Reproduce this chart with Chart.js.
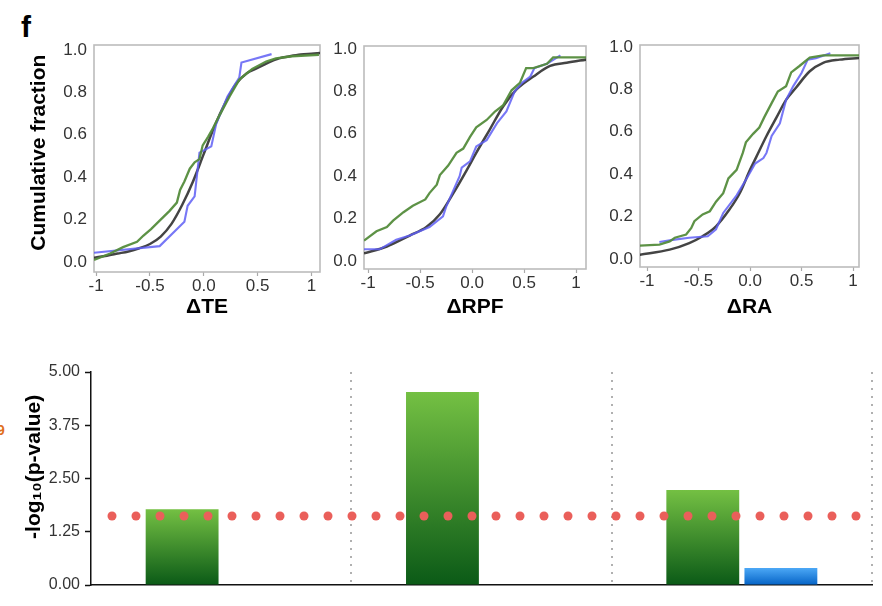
<!DOCTYPE html>
<html>
<head>
<meta charset="utf-8">
<script src="https://cdn.jsdelivr.net/npm/chart.js@4.4.1/dist/chart.umd.min.js"></script>
<style>
  html, body { margin: 0; padding: 0; background: #fff; }
  body { width: 882px; height: 606px; position: relative; overflow: hidden; font-family: "Liberation Sans", Arial, sans-serif; }
  canvas { position: absolute; }
  .lbl { position: absolute; font-weight: bold; white-space: nowrap; }
</style>
</head>
<body>
<div class="lbl" style="left:21px;top:12px;font-size:30px;line-height:30px;color:#000;">f</div>
<div class="lbl" style="left:-3px;top:423px;font-size:14px;line-height:14px;color:#e07020;">9</div>
<canvas id="c1" width="335" height="330" style="left:0;top:0;"></canvas>
<canvas id="c2" width="300" height="330" style="left:300px;top:0;"></canvas>
<canvas id="c3" width="302" height="330" style="left:580px;top:0;"></canvas>
<canvas id="c4" width="882" height="266" style="left:0;top:340px;"></canvas>
<script>
// ---------- DATA ----------
// Cumulative-fraction curves: [delta, fraction]
const teBlack  = [[-1.02,0.02],[-0.9,0.03],[-0.8,0.04],[-0.7,0.05],[-0.6,0.065],[-0.5,0.085],[-0.4,0.12],[-0.3,0.18],[-0.2,0.27],[-0.1,0.38],[0,0.51],[0.1,0.64],[0.2,0.75],[0.3,0.84],[0.4,0.89],[0.5,0.915],[0.6,0.94],[0.7,0.96],[0.8,0.97],[0.9,0.978],[1.0,0.982],[1.08,0.985]];
const teGreen  = [[-1.02,0.01],[-0.87,0.04],[-0.75,0.07],[-0.62,0.095],[-0.56,0.125],[-0.49,0.155],[-0.41,0.195],[-0.32,0.24],[-0.25,0.28],[-0.22,0.34],[-0.18,0.38],[-0.13,0.44],[-0.085,0.47],[-0.04,0.485],[-0.01,0.55],[0.04,0.59],[0.085,0.63],[0.15,0.695],[0.24,0.78],[0.33,0.86],[0.45,0.91],[0.58,0.945],[0.67,0.96],[0.82,0.97],[1.07,0.977]];
const teBlue   = [[-1.02,0.044],[-0.41,0.075],[-0.18,0.19],[-0.15,0.265],[-0.085,0.31],[-0.04,0.515],[0.07,0.545],[0.115,0.65],[0.22,0.78],[0.33,0.87],[0.35,0.94],[0.63,0.98]];

const rpfBlack = [[-1.04,0.036],[-0.82,0.068],[-0.6,0.12],[-0.44,0.16],[-0.31,0.22],[-0.18,0.32],[-0.05,0.43],[0.04,0.51],[0.17,0.62],[0.3,0.73],[0.43,0.81],[0.59,0.87],[0.75,0.92],[0.91,0.935],[1.1,0.95]];
const rpfGreen = [[-1.04,0.096],[-0.92,0.14],[-0.82,0.16],[-0.76,0.19],[-0.66,0.23],[-0.57,0.26],[-0.45,0.29],[-0.41,0.32],[-0.34,0.36],[-0.31,0.405],[-0.23,0.45],[-0.15,0.51],[-0.085,0.53],[-0.02,0.585],[0.04,0.63],[0.14,0.665],[0.22,0.705],[0.3,0.735],[0.38,0.805],[0.46,0.84],[0.52,0.91],[0.59,0.91],[0.72,0.93],[0.78,0.96],[1.1,0.96]];
const rpfBlue  = [[-1.04,0.055],[-0.89,0.055],[-0.73,0.1],[-0.6,0.12],[-0.41,0.16],[-0.28,0.21],[-0.25,0.255],[-0.12,0.4],[-0.1,0.44],[-0.02,0.47],[0.04,0.54],[0.14,0.57],[0.24,0.65],[0.33,0.705],[0.41,0.8],[0.48,0.84],[0.56,0.87],[0.6,0.91],[0.72,0.93],[0.85,0.97]];

const raBlack  = [[-1.07,0.02],[-0.78,0.044],[-0.59,0.075],[-0.46,0.107],[-0.33,0.154],[-0.2,0.233],[-0.1,0.31],[0.0,0.42],[0.06,0.48],[0.16,0.58],[0.26,0.67],[0.35,0.75],[0.45,0.81],[0.58,0.885],[0.71,0.925],[0.87,0.94],[1.06,0.948]];
const raGreen  = [[-1.07,0.063],[-0.88,0.068],[-0.78,0.083],[-0.73,0.1],[-0.62,0.115],[-0.57,0.146],[-0.54,0.178],[-0.46,0.21],[-0.39,0.225],[-0.33,0.27],[-0.26,0.31],[-0.21,0.38],[-0.13,0.42],[-0.07,0.5],[-0.04,0.55],[0.03,0.59],[0.09,0.62],[0.14,0.67],[0.21,0.735],[0.27,0.79],[0.35,0.815],[0.4,0.88],[0.48,0.91],[0.58,0.95],[0.71,0.96],[1.06,0.96]];
const raBlue   = [[-0.88,0.08],[-0.75,0.09],[-0.59,0.1],[-0.41,0.107],[-0.33,0.14],[-0.26,0.217],[-0.13,0.3],[-0.02,0.39],[0.05,0.45],[0.13,0.476],[0.16,0.5],[0.21,0.58],[0.29,0.64],[0.35,0.75],[0.42,0.815],[0.5,0.877],[0.56,0.94],[0.64,0.947],[0.78,0.97]];

const panelTitles = ['\u0394TE', '\u0394RPF', '\u0394RA'];
const xTickVals   = [-1, -0.5, 0, 0.5, 1];
const xTickLabels = ['-1', '-0.5', '0.0', '0.5', '1'];
const yTickVals   = [0, 0.2, 0.4, 0.6, 0.8, 1.0];
const yTickLabels = ['0.0', '0.2', '0.4', '0.6', '0.8', '1.0'];

// Bar chart: -log10(p-value)
const barCategories = ['\u0394TE', '\u0394RPF', '\u0394RA'];
const greenValues   = [1.78, 4.53, 2.23];
const blueValues    = [null, null, 0.40];
const thresholdValue = 1.62;
const barTickVals   = [0, 1.25, 2.5, 3.75, 5];
const barTickLabels = ['0.00', '1.25', '2.50', '3.75', '5.00'];

// ---------- RENDER ----------
const FONT = '"Liberation Sans", Arial, sans-serif';
const toXY = arr => arr.map(p => ({x: p[0], y: p[1]}));

const framePlugin = {
  id: 'frame',
  beforeDatasetsDraw(chart) {
    const a = chart.chartArea, ctx = chart.ctx;
    ctx.save();
    ctx.strokeStyle = '#bcbcbc';
    ctx.lineWidth = 1.6;
    ctx.strokeRect(a.left, a.top, a.right - a.left, a.bottom - a.top);
    ctx.restore();
  }
};

function makePanel(id, cfg) {
  const yScale = {
    min: cfg.ymin, max: cfg.ymax,
    afterBuildTicks: s => { s.ticks = yTickVals.map(v => ({value: v})); },
    afterFit: s => { s.width = cfg.yWidth; },
    grid: { display: false, drawTicks: false },
    border: { display: false },
    ticks: {
      padding: 7, color: '#333',
      font: { family: FONT, size: 17 },
      callback: (v, i) => yTickLabels[i]
    },
    title: cfg.yTitle ? {
      display: true, text: cfg.yTitle, color: '#000',
      font: { family: FONT, size: 21, weight: 'bold' },
      padding: { top: cfg.yTitlePad, bottom: 0 }
    } : { display: false }
  };
  const xScale = {
    type: 'linear', min: cfg.xmin, max: cfg.xmax,
    afterBuildTicks: s => { s.ticks = xTickVals.map(v => ({value: v})); },
    afterFit: s => { s.height = cfg.xHeight; },
    grid: { drawOnChartArea: false, drawTicks: true, tickLength: 4, tickColor: '#aaa', tickWidth: 1.2 },
    border: { display: false },
    ticks: {
      padding: 0, color: '#333', maxRotation: 0, autoSkip: false,
      font: { family: FONT, size: 17 },
      callback: (v, i) => xTickLabels[i]
    },
    title: {
      display: true, text: cfg.xTitle, color: '#000',
      font: { family: FONT, size: 21, weight: 'bold' },
      padding: { top: 0, bottom: 4 }
    }
  };
  const ds = (data, color, w, smooth) => ({
    data: toXY(data), borderColor: color, borderWidth: w, pointRadius: 0,
    tension: smooth ? 0.4 : 0, cubicInterpolationMode: smooth ? 'monotone' : 'default',
    fill: false
  });
  new Chart(document.getElementById(id), {
    type: 'line',
    data: { datasets: [
      ds(cfg.green, 'rgba(84,140,60,0.95)', 2.3, false),
      ds(cfg.blue, 'rgba(95,95,245,0.85)', 2.1, false),
      ds(cfg.black, 'rgba(35,35,35,0.85)', 2.5, true)
    ]},
    options: {
      responsive: false, animation: false,
      layout: { padding: cfg.pad },
      plugins: { legend: { display: false }, tooltip: { enabled: false } },
      scales: { x: xScale, y: yScale }
    },
    plugins: [framePlugin]
  });
}

makePanel('c1', { black: teBlack, green: teGreen, blue: teBlue, xTitle: panelTitles[0],
  yTitle: '  Cumulative fraction', yTitlePad: 27,
  xmin: -1.02, xmax: 1.08, ymin: -0.047, ymax: 1.023,
  yWidth: 94, xHeight: 52, pad: { left: 0, top: 45, right: 15, bottom: 6 } });
makePanel('c2', { black: rpfBlack, green: rpfGreen, blue: rpfBlue, xTitle: panelTitles[1],
  xmin: -1.04, xmax: 1.096, ymin: -0.038, ymax: 1.014,
  yWidth: 64, xHeight: 55, pad: { left: 0, top: 46, right: 14, bottom: 6 } });
makePanel('c3', { black: raBlack, green: raGreen, blue: raBlue, xTitle: panelTitles[2],
  xmin: -1.068, xmax: 1.058, ymin: -0.038, ymax: 1.009,
  yWidth: 60, xHeight: 57, pad: { left: 0, top: 45, right: 23, bottom: 6 } });

// Bar chart
function barGradient(top, bottom) {
  return (c) => {
    const chart = c.chart;
    if (!chart.chartArea || c.raw == null) return top;
    const y = chart.scales.y;
    const g = chart.ctx.createLinearGradient(0, y.getPixelForValue(c.raw), 0, y.getPixelForValue(0));
    g.addColorStop(0, top);
    g.addColorStop(1, bottom);
    return g;
  };
}

const dotsPlugin = {
  id: 'dots',
  afterDatasetsDraw(chart) {
    const a = chart.chartArea, ctx = chart.ctx;
    const y = chart.scales.y.getPixelForValue(thresholdValue);
    ctx.save();
    ctx.fillStyle = '#ea5f5a';
    for (let x = a.left + 21; x <= a.right - 14; x += 24) {
      ctx.beginPath();
      ctx.arc(x, y, 4.5, 0, Math.PI * 2);
      ctx.fill();
    }
    ctx.restore();
  }
};

new Chart(document.getElementById('c4'), {
  type: 'bar',
  data: {
    labels: barCategories,
    datasets: [
      { data: greenValues, backgroundColor: barGradient('#74c043', '#0b5a17'),
        categoryPercentage: 0.6, barPercentage: 0.933, borderWidth: 0 },
      { data: blueValues, backgroundColor: barGradient('#4ca8f6', '#0563c6'),
        categoryPercentage: 0.6, barPercentage: 0.933, borderWidth: 0 }
    ]
  },
  options: {
    responsive: false, animation: false,
    layout: { padding: { left: 0, top: 32, right: 10, bottom: 0 } },
    plugins: { legend: { display: false }, tooltip: { enabled: false } },
    scales: {
      x: {
        type: 'category',
        afterFit: s => { s.height = 21; },
        ticks: { display: false },
        grid: {
          display: true, offset: true, drawOnChartArea: true, drawTicks: false,
          color: c => (c.index === 0 ? 'rgba(0,0,0,0)' : '#b0b0b0'), lineWidth: 2
        },
        border: { display: true, color: '#111', width: 1.5, dash: [2, 6] }
      },
      y: {
        min: 0, max: 5,
        afterBuildTicks: s => { s.ticks = barTickVals.map(v => ({value: v})); },
        afterFit: s => { s.width = 91; },
        grid: { drawOnChartArea: false, drawTicks: true, tickLength: 6, tickColor: '#111', tickWidth: 1.5 },
        border: { display: true, color: '#111', width: 1.5 },
        ticks: {
          padding: 5, color: '#333',
          font: { family: FONT, size: 16 },
          callback: (v, i) => barTickLabels[i]
        },
        title: {
          display: true, text: '    -log\u2081\u2080(p-value)', color: '#000',
          font: { family: FONT, size: 21, weight: 'bold' },
          padding: { top: 22, bottom: 0 }
        }
      }
    }
  },
  plugins: [dotsPlugin]
});
</script>
</body>
</html>
